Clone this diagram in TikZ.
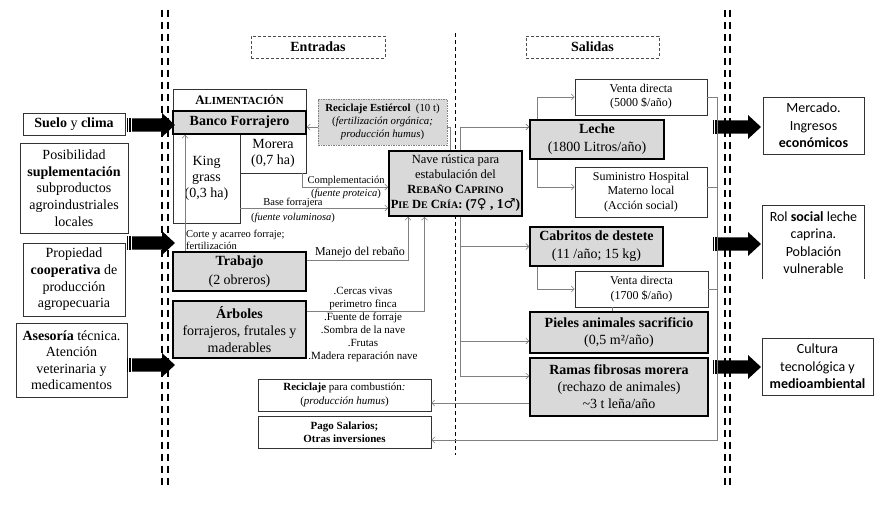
\documentclass[tikz,border=0pt]{standalone}
\usepackage{fontspec}
\setmainfont{Liberation Serif}
\newfontfamily\calfont{Carlito}
\newfontfamily\symfont{DejaVu Serif}
\usetikzlibrary{arrows.meta}
\definecolor{boxgray}{RGB}{217,217,217}
\definecolor{lngray}{RGB}{128,128,128}
\newcommand\fs[2]{\fontsize{#1}{#2}\selectfont}
\newcommand\smallcap[2]{{\fontsize{#1}{1}\selectfont #2}}
\tikzset{bigarrow/.pic={
  \fill[black] (0,-6.7) rectangle (1.2,6.7);
  \fill[black] (2.4,-6.7) rectangle (3.8,6.7);
  \fill[black] (5,-6.7) -- (35,-6.7) -- (35,-12) -- (48,0) -- (35,12) -- (35,6.7) -- (5,6.7) -- cycle;
}}
\begin{document}
\begin{tikzpicture}[x=1pt,y=-1pt,
 box/.style={draw=black!80, line width=0.7pt, fill=white, inner sep=0pt, align=center},
 gbox/.style={draw=black, line width=1.5pt, fill=boxgray, inner sep=0pt, align=center},
 sz/.style 2 args={minimum width=#1pt, minimum height=#2pt},
 conn/.style={draw=lngray, line width=0.6pt, -{Straight Barb[length=3pt,width=6pt]}},
 link/.style={draw=lngray, line width=0.6pt},
 lbl/.style={inner sep=0pt, align=center, font=\fs{10.5}{12.5}},
 ddash/.style={line width=2pt, dash pattern=on 7pt off 5pt},
 cdash/.style={line width=0.8pt, dash pattern=on 4pt off 3pt},
 tbox/.style={box, draw=black!70, dash pattern=on 3pt off 2pt}
]
\useasboundingbox (0,0) rectangle (889,512);
\fill[white] (0,0) rectangle (889,512);

% divider lines
\draw[ddash] (162,10) -- (162,487);
\draw[ddash] (167.5,10) -- (167.5,487);
\draw[ddash] (725,10) -- (725,487);
\draw[ddash] (730,10) -- (730,487);
\draw[cdash] (455,33) -- (455,455);

% left column
\node[box, sz={102}{22}, font=\fs{14}{16.7}] (suelo) at (74,124) {\textbf{Suelo} y \textbf{clima}};
\node[box, sz={108}{90}, font=\fs{14}{16.7}] (posib) at (74,188) {Posibilidad\\\textbf{suplementación}\\subproductos\\agroindustriales\\locales};
\node[box, sz={102}{73}, font=\fs{14}{16.7}] (prop) at (74,279.5) {Propiedad\\\textbf{cooperativa} de\\producción\\agropecuaria};
\node[box, sz={111}{74}, font=\fs{14}{16.5}] (ases) at (71.5,360) {\textbf{Asesoría} técnica.\\Atención\\veterinaria y\\medicamentos};

% titles
\node[tbox, sz={134}{22}, font=\fs{14}{16}\bfseries] (entr) at (318,47) {Entradas};
\node[tbox, sz={133}{22}, font=\fs{14}{16}\bfseries] (sal) at (592.5,47) {Salidas};

% alimentacion block
\node[box, sz={133}{22}, font=\fs{13}{16}] (alim) at (239.5,100) {\textbf{A\smallcap{10.8}{LIMENTACIÓN}}};
\node[box, sz={67}{89}, font=\fs{14}{16}] (king) at (206.5,178.5) {King\\grass\\(0,3 ha)};
\node[box, sz={66}{39}, font=\fs{14}{16.5}] (morera) at (273,153.5) {Morera\\(0,7 ha)};
\node[gbox, sz={133}{23}, font=\fs{14}{16}\bfseries] (banco) at (239.5,122.5) {Banco Forrajero};

\node[gbox, draw=lngray, line width=0.8pt, dash pattern=on 1.5pt off 1pt, sz={129}{46}, font=\fs{10.8}{13}] (recE) at (382.5,122) {\textbf{Reciclaje Estiércol}\ \ (10 t)\\(\textit{fertilización orgánica;}\\\textit{producción humus})};

\node[gbox, sz={133}{65}, font=\fs{12.5}{15}] (nave) at (455.5,183.5) {Nave rústica para\\estabulación del\\\textbf{R\smallcap{10}{EBAÑO} C\smallcap{10}{APRINO}}\\\textbf{P\smallcap{10}{IE} D\smallcap{10}{E} C\smallcap{10}{RÍA}: {\fs{13.5}{15}(7{\symfont ♀} , 1{\symfont ♂})}}};

\node[gbox, sz={133}{39}, font=\fs{14}{19}] (trab) at (239.5,271.5) {\textbf{Trabajo}\\(2 obreros)};
\node[gbox, sz={133}{57}, font=\fs{14}{17}] (arb) at (239.5,329.5) {\textbf{Árboles}\\forrajeros, frutales y\\maderables};

\node[lbl, font=\fs{11}{13}] (arbl) at (363,324.5) {.Cercas vivas\\perimetro finca\\.Fuente de forraje\\.Sombra de la nave\\.Frutas\\.Madera reparación nave};

\node[box, sz={173}{32}, font=\fs{11}{14}] (recC) at (344.5,395) {\textbf{Reciclaje} para combustión\textit{:}\\(\textit{producción humus})};
\node[box, sz={173}{32}, font=\fs{11}{12.5}\bfseries] (pago) at (344.5,432) {Pago Salarios;\\Otras inversiones};

% outputs
\node[box, sz={132}{36}, font=\fs{12}{14}] (v1) at (641,97) {Venta directa\\(5000 \$/año)};
\node[gbox, sz={134}{39}, font=\fs{14}{18}] (leche) at (597,139.5) {\textbf{Leche}\\(1800 Litros/año)};
\node[box, sz={132}{50}, font=\fs{12}{14.5}] (sum) at (641,192) {Suministro Hospital\\Materno local\\(Acción social)};
\node[gbox, sz={133}{39}, font=\fs{14}{18}] (cab) at (596.5,246.5) {\textbf{Cabritos de destete}\\(11 /año; 15 kg)};
\node[box, sz={133}{36}, font=\fs{12}{15}] (v2) at (641.5,289) {Venta directa\\(1700 \$/año)};
\node[gbox, sz={178}{41}, font=\fs{14}{17}] (piel) at (619,332.5) {\textbf{Pieles animales sacrificio}\\(0,5 m²/año)};
\node[gbox, sz={178}{58}, font=\fs{14}{17}] (ramas) at (619,387) {\textbf{Ramas fibrosas morera}\\(rechazo de animales)\\\textasciitilde 3 t leña/año};

% right column
\node[box, sz={101}{57}, font=\calfont\fs{14}{17.5}] (merc) at (813.5,125.5) {Mercado.\\Ingresos\\\textbf{económicos}};
\node[box, draw=none, sz={101}{73}, font=\calfont\fs{14}{17.5}] (rol) at (813.5,242.5) {Rol \textbf{social} leche\\caprina.\\Población\\vulnerable};
\draw[draw=black!80, line width=0.7pt] (rol.south west) -- (rol.north west) -- (rol.north east) -- (rol.south east);
\node[box, sz={111}{57}, font=\calfont\fs{14}{17.5}] (cult) at (817.5,366.5) {Cultura\\tecnológica y\\\textbf{medioambiental}};

% labels
\node[lbl, anchor=west, align=left] (lcorte) at (186,240) {Corte y acarreo forraje;\\fertilización};
\node[lbl] (lcomp1) at (346,181) {Complementación};
\node[lbl] (lcomp2) at (346,194) {(\textit{fuente proteica})};
\node[lbl] (lbase1) at (293,203) {Base forrajera};
\node[lbl] (lbase2) at (293,218) {(\textit{fuente voluminosa})};
\node[lbl, font=\fs{12}{14}] (lmanejo) at (360,253) {Manejo del rebaño};

% coordinates
\coordinate (tTop) at ([xshift=4.5pt]nave.north);
\coordinate (tBot) at ([xshift=4.5pt]nave.south);
\coordinate (inLeche) at ([yshift=12.5pt]leche.west);
\coordinate (inPiel) at ([yshift=-8.5pt]piel.west);
\coordinate (inRamas) at ([yshift=11pt]ramas.west);
\coordinate (lTop) at ([xshift=-60pt]leche.north);
\coordinate (lBot) at ([xshift=-60pt]leche.south);
\coordinate (inSum) at ([yshift=5pt]sum.west);
\coordinate (outSum) at ([yshift=5pt]sum.east);
\coordinate (cBot) at ([xshift=-59.5pt]cab.south);
\coordinate (v2b) at ([xshift=-29.5pt]v2.south);
\coordinate (colB) at (717,440);
\coordinate (inPago) at ([yshift=-8pt]pago.east);
\coordinate (outRamas) at ([yshift=-16pt]ramas.west);
\coordinate (mB) at ([xshift=29pt]morera.south);
\coordinate (inNave1) at ([yshift=-3.5pt]nave.west);
\coordinate (kE) at ([yshift=-29.5pt]king.east);
\coordinate (tE) at ([yshift=11.5pt]trab.east);
\coordinate (nS1) at ([xshift=-47.5pt]nave.south);
\coordinate (aE) at ([yshift=18.5pt]arb.east);
\coordinate (nS2) at ([xshift=-31pt]nave.south);
\coordinate (tN) at ([xshift=-54.5pt]trab.north);
\coordinate (rEin) at ([yshift=-5pt]recE.west);
\coordinate (rEout) at ([yshift=-5pt]recE.east);
\coordinate (nRec) at ([xshift=-5.5pt]nave.north);

% connectors
\draw[conn] (rEin) -- (rEin -| banco.east);
\draw[link] (nRec) |- (rEout);
\draw[conn] (tTop) |- (inLeche);
\draw[conn] (tBot) |- (inRamas);
\draw[conn] (tBot |- cab.west) -- (cab.west);
\draw[conn] (tBot |- inPiel) -- (inPiel);
\draw[conn] (lTop) |- (v1.west);
\draw[conn] (lBot) |- (inSum);
\draw[conn] (cBot) |- (v2.west);
\draw[link] (v2b) -- (v2b |- piel.north);
\draw[conn] (v1.east) -| (colB) -- (inPago);
\draw[link] (outSum) -- (outSum -| colB);
\draw[link] (v2.east) -- (v2.east -| colB);
\draw[conn] (outRamas) -- (outRamas -| recC.east);
\draw[conn] (mB) |- (inNave1);
\draw[conn] (kE) -- (kE -| nave.west);
\draw[conn] (tE) -| (nS1);
\draw[conn] (aE) -| (nS2);
\draw[conn] (tN) -- (tN |- banco.south);

% big arrows
\pic (aL1) at (127,125) {bigarrow};
\pic (aL2) at (127,243) {bigarrow};
\pic (aL3) at (127,365) {bigarrow};
\pic (aR1) at (713,127) {bigarrow};
\pic (aR2) at (713,244) {bigarrow};
\pic (aR3) at (713,367) {bigarrow};
\end{tikzpicture}
\end{document}
